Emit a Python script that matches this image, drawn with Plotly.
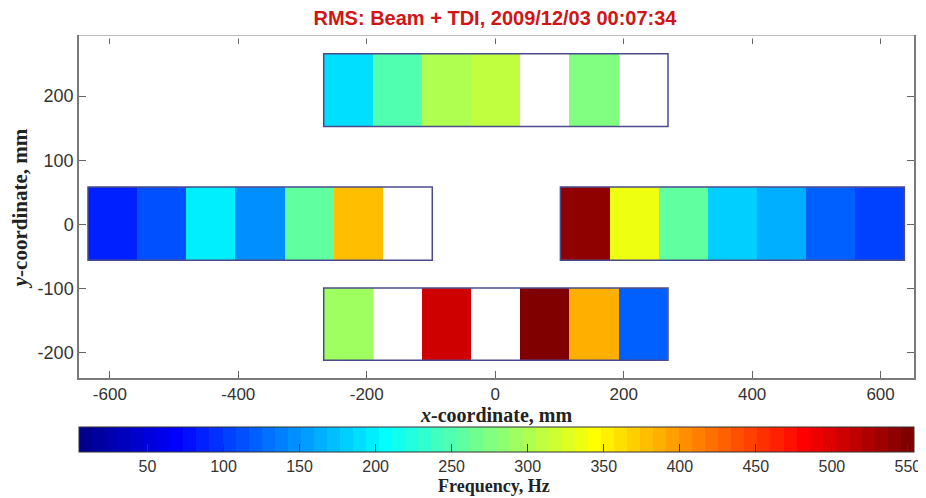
import numpy as np
import plotly.graph_objects as go

# ---------------- data ----------------
module_names = ["top", "left", "right", "bottom"]
module_x = {"top": [-267, 269], "left": [-634, -98], "right": [101.5, 637], "bottom": [-267, 269]}
module_y = {"top": [152.5, 266], "left": [-55.5, 58.5], "right": [-55.5, 58.5], "bottom": [-211.5, -99]}
nan = None
freq_top = [189.5, 249.5, 301, 310, nan, 275, nan]
freq_left = [86.5, 112, 198, 146.6, 258, 378, nan]
freq_right = [541, 335, 258, 181, 164, 121, 104]
freq_bottom = [292, nan, 507, nan, 550, 387, 121]
freqs = {"top": freq_top, "left": freq_left, "right": freq_right, "bottom": freq_bottom}
cmin, cmax = 5, 554
x_ticks = [-600, -400, -200, 0, 200, 400, 600]
x_tick_labels = ["-600", "-400", "-200", "0", "200", "400", "600"]
y_ticks = [-200, -100, 0, 100, 200]
y_tick_labels = ["-200", "-100", "0", "100", "200"]
cb_ticks = [50, 100, 150, 200, 250, 300, 350, 400, 450, 500, 550]
title = "RMS: Beam + TDI, 2009/12/03 00:07:34"
x_title = "<b><i>x</i>-coordinate, mm</b>"
y_title = "<b><i>y</i>-coordinate, mm</b>"
cb_title = "<b>Frequency, Hz</b>"

# ---------------- MATLAB jet(64) stepped colorscale ----------------
def u(j):
    if 1 <= j <= 16:
        return j / 16
    if 17 <= j <= 31:
        return 1.0
    if 32 <= j <= 47:
        return (48 - j) / 16
    return 0.0

N = 64
cols = []
for k in range(1, N + 1):
    r, g, b = u(k - 24), u(k - 8), u(k + 8)
    cols.append("rgb(%d,%d,%d)" % (round(r * 255), round(g * 255), round(b * 255)))
colorscale = []
for i, c in enumerate(cols):
    colorscale.append([i / N, c])
    colorscale.append([(i + 1) / N, c])

# the page body adds an 8px offset; figure is sized to compensate
OFF = 8
W, H = 926 - OFF, 498 - OFF
L, R, T, B = 79 - OFF, 12, 37 - OFF, 120
plot_h = H - T - B
plot_w = W - L - R
plot_bottom = H - B


def py(page_y):
    return (plot_bottom - (page_y - OFF)) / plot_h


def px(page_x):
    return (page_x - OFF - L) / plot_w


fig = go.Figure()
serif = "Liberation Serif"
sans = "Liberation Sans, Arial"

for idx, name in enumerate(module_names):
    x0, x1 = module_x[name]
    xe = np.linspace(x0, x1, len(freqs[name]) + 1)
    z = [[np.nan if v is None else v for v in freqs[name]]]
    fig.add_trace(go.Heatmap(
        x=xe, y=module_y[name], z=z,
        colorscale=colorscale, zmin=cmin, zmax=cmax,
        showscale=(idx == 0), hoverinfo="skip",
        colorbar=dict(
            orientation="h", x=0.5, xanchor="center", xref="paper",
            y=py(427), yanchor="top", yref="paper",
            len=1, lenmode="fraction", thickness=25, xpad=0, ypad=0,
            outlinecolor="#333333", outlinewidth=1,
            tickvals=cb_ticks, ticks="inside", ticklen=8, tickcolor="#333333",
            tickfont=dict(family=sans, size=16, color="#333333"),
        ),
    ))
    fig.add_shape(type="rect", xref="x", yref="y", x0=x0, x1=x1,
                  y0=module_y[name][0], y1=module_y[name][1],
                  line=dict(color="#4b4b8c", width=1.5), layer="above")

# hide the top spine line (ticks stay)
fig.add_shape(type="line", xref="paper", yref="paper", x0=0, x1=1, y0=1, y1=1,
              line=dict(color="white", width=3), layer="above")

fig.add_annotation(text=x_title, xref="paper", yref="paper", x=px(496), y=py(415),
                   xanchor="center", yanchor="middle", showarrow=False,
                   font=dict(family=serif, size=20, color="#222222"))
fig.add_annotation(text=cb_title, xref="paper", yref="paper", x=px(494), y=py(486),
                   xanchor="center", yanchor="middle", showarrow=False,
                   font=dict(family=serif, size=18, color="#222222"))

fig.update_layout(
    width=W, height=H,
    margin=dict(l=L, r=R, t=T, b=B, autoexpand=False),
    paper_bgcolor="white", plot_bgcolor="white",
    showlegend=False,
    title=dict(text="<b>" + title + "</b>", x=(495 - OFF) / W, xanchor="center",
               y=1 - (18 - OFF) / H, yanchor="middle", yref="container",
               font=dict(family=sans, size=20, color="#d01515")),
    xaxis=dict(range=[-648, 652], tickvals=x_ticks, ticktext=x_tick_labels,
               ticks="inside", ticklen=7, automargin=False,
               tickcolor="#666666", showline=True, linecolor="#7a7a7a", linewidth=1.5,
               mirror="ticks", showgrid=False, zeroline=False,
               tickfont=dict(family=sans, size=17, color="#333333")),
    yaxis=dict(range=[-239, 292], tickvals=y_ticks, ticktext=y_tick_labels,
               ticks="inside", ticklen=7, automargin=False,
               tickcolor="#666666", showline=True, linecolor="#7a7a7a", linewidth=1.5,
               mirror="ticks", showgrid=False, zeroline=False,
               tickfont=dict(family=sans, size=18, color="#333333"),
               title=dict(text=y_title, standoff=8,
                          font=dict(family=serif, size=21, color="#222222"))),
)

fig.write_html("out.html")
